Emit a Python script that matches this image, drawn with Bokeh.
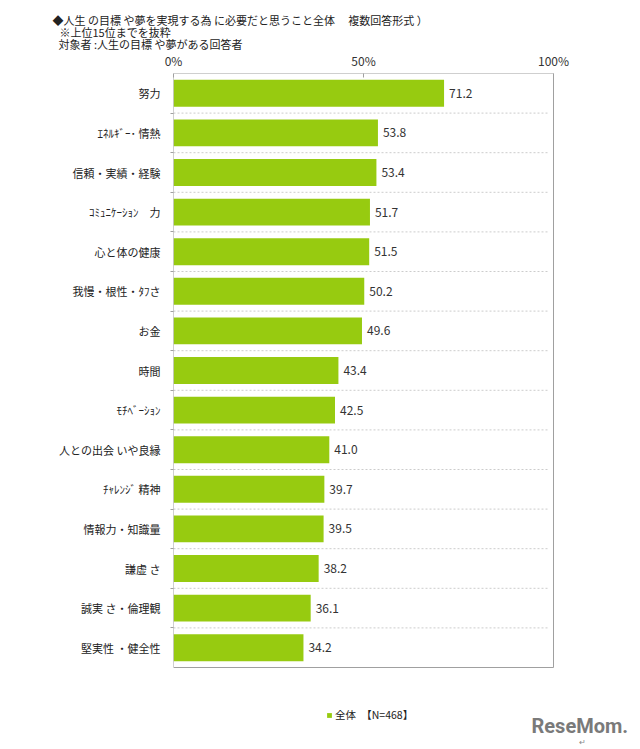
from bokeh.plotting import figure
from bokeh.models import Range1d, FixedTicker, ColumnDataSource, Legend, LegendItem, Label, Title
from bokeh.core.properties import value
from bokeh.embed import file_html
from bokeh.resources import INLINE

categories = ["努力", "ｴﾈﾙｷﾞｰ･ 情熱", "信頼・実績・経験", "ｺﾐｭﾆｹｰｼｮﾝ　力", "心と体の健康",
              "我慢・根性・ﾀﾌさ", "お金", "時間", "ﾓﾁﾍﾞｰｼｮﾝ", "人との出会 いや良縁",
              "ﾁｬﾚﾝｼﾞ 精神", "情報力・知識量", "謙虚 さ", "誠実 さ・倫理観", "堅実性 ・健全性"]
values = [71.2, 53.8, 53.4, 51.7, 51.5, 50.2, 49.6, 43.4, 42.5, 41.0, 39.7, 39.5, 38.2, 36.1, 34.2]
x_ticks = [0, 50, 100]
x_tick_labels = ["0%", "50%", "100%"]
title_lines = ["◆人生 の目標 や夢を実現する為 に必要だと思うこと全体　 複数回答形式 ）",
               "※上位15位までを抜粋",
               "対象者 :人生の目標 や夢がある回答者"]
legend_label = "全体　【N=468】"
logo_text = "ReseMom."

FONT = "Noto Sans CJK JP"
GREEN = "#97cb10"
W, H = 636, 748
FRAME_L, FRAME_T = 173, 73          # page px of the chart box
BOX_R, BOX_B = 553, 667             # right / bottom of the drawn chart box
n = len(categories)
xmax = x_ticks[-1]
px_per_x = (BOX_R - FRAME_L) / xmax
px_per_y = (BOX_B - FRAME_T) / n

p = figure(width=W, height=H, output_backend="svg", toolbar_location=None,
           x_range=Range1d(0, (W - FRAME_L) / px_per_x),
           y_range=Range1d((H - FRAME_T) / px_per_y, 0),
           x_axis_location="above",
           min_border_left=FRAME_L, min_border_right=0, min_border_top=FRAME_T, min_border_bottom=0)

ypos = [i + 0.5 for i in range(n)]
src = ColumnDataSource(dict(y=ypos, val=values, lab=[f"{v:.1f}" for v in values]))
bars = p.hbar(y="y", right="val", left=0, height=0.68, source=src, fill_color=GREEN, line_color=None)
p.text(x="val", y="y", text="lab", source=src, x_offset=5, text_align="left", text_baseline="middle",
       text_font=value(FONT), text_font_size="12px", text_color="#333333")

# dashed separators between categories
seps = list(range(1, n))
p.segment(x0=[0] * len(seps), x1=[xmax * 0.985] * len(seps), y0=seps, y1=seps,
          line_color="#cccccc", line_dash="2 2", line_width=1)
# chart box
p.quad(left=[0], right=[xmax], top=[0], bottom=[n], fill_color=None, line_color="#a0a0a0", line_width=1)

p.xgrid.visible = False
p.ygrid.visible = False
p.outline_line_color = None

xa = p.xaxis[0]
xa.ticker = FixedTicker(ticks=x_ticks)
xa.major_label_overrides = {t: l for t, l in zip(x_ticks, x_tick_labels)}
xa.axis_line_color = None
xa.major_tick_in = 4
xa.major_tick_out = 0
xa.major_tick_line_color = "#a0a0a0"
xa.minor_tick_line_color = None
xa.major_label_standoff = 5
xa.major_label_text_font = FONT
xa.major_label_text_font_size = "12px"
xa.major_label_text_color = "#333333"

ya = p.yaxis[0]
ya.ticker = FixedTicker(ticks=ypos, minor_ticks=seps)
ya.major_label_overrides = {y: c for y, c in zip(ypos, categories)}
ya.axis_line_color = None
ya.major_tick_line_color = None
ya.minor_tick_line_color = "#a0a0a0"
ya.minor_tick_in = 0
ya.minor_tick_out = 3
ya.major_tick_in = 0
ya.major_tick_out = 0
ya.major_label_standoff = 10
ya.major_label_text_font = FONT
ya.major_label_text_font_size = "11px"
ya.major_label_text_color = "#222222"

# title lines (outermost added last)
title_x = [52, 59, 58]
for t, x in reversed(list(zip(title_lines, title_x))):
    p.add_layout(Title(text=t, align="left", offset=x - FRAME_L, standoff=-6,
                       text_font=FONT, text_font_size="11px", text_font_style="normal",
                       text_color="#222222"), "above")

leg = Legend(items=[LegendItem(label=legend_label, renderers=[bars])],
             location=(326 - FRAME_L, H - 722), orientation="horizontal",
             glyph_width=6, glyph_height=6, label_standoff=3, padding=0, margin=0, spacing=0,
             border_line_color=None, background_fill_alpha=0,
             label_text_font=FONT, label_text_font_size="10.5px", label_text_color="#222222",
             label_height=12)
p.add_layout(leg)

p.add_layout(Label(x=531 - FRAME_L, y=H - 725, x_units="screen", y_units="screen", text=logo_text,
                   text_font="Roboto", text_font_size="20px", text_font_style="bold", text_color="#7a7a7a",
                   text_baseline="middle", text_align="left"))
p.add_layout(Label(x=578 - FRAME_L, y=H - 741, x_units="screen", y_units="screen", text="↵",
                   text_font=FONT, text_font_size="8px", text_color="#888888",
                   text_baseline="middle", text_align="left"))

open("out.html", "w").write(file_html(p, INLINE))
